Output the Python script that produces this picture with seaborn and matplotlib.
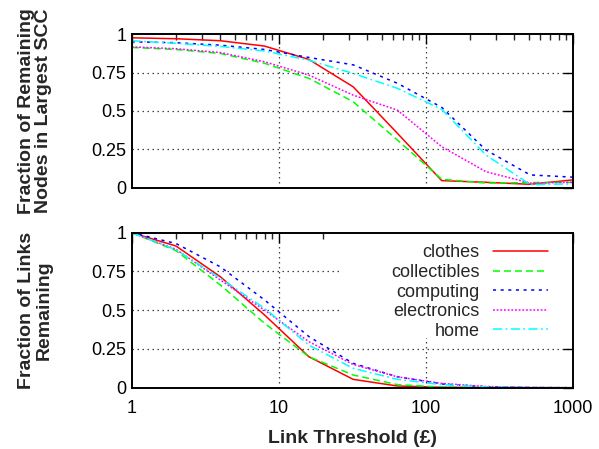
import numpy as np
import pandas as pd
import matplotlib
matplotlib.use("Agg")
import matplotlib.pyplot as plt
import seaborn as sns
from matplotlib.patches import Rectangle
from matplotlib.ticker import LogLocator, NullFormatter, FixedLocator

# link thresholds (pounds), powers of two
thresholds = [1, 2, 4, 8, 16, 32, 64, 128, 256, 512, 1024]
categories = ["clothes", "collectibles", "computing", "electronics", "home"]

# fraction of remaining nodes in largest SCC
scc_clothes = [0.976, 0.970, 0.957, 0.922, 0.835, 0.657, 0.354, 0.046, 0.035, 0.022, 0.052]
scc_collectibles = [0.913, 0.900, 0.874, 0.810, 0.712, 0.560, 0.310, 0.055, 0.030, 0.033, 0.035]
scc_computing = [0.950, 0.944, 0.928, 0.900, 0.848, 0.800, 0.680, 0.523, 0.245, 0.083, 0.068]
scc_electronics = [0.917, 0.905, 0.880, 0.820, 0.733, 0.603, 0.505, 0.267, 0.104, 0.030, 0.035]
scc_home = [0.957, 0.940, 0.920, 0.890, 0.830, 0.744, 0.647, 0.510, 0.213, 0.020, 0.025]

# fraction of links remaining
links_clothes = [1.0, 0.914, 0.716, 0.469, 0.200, 0.054, 0.011, 0.003, 0.001, 0.0, 0.0]
links_collectibles = [1.0, 0.884, 0.663, 0.415, 0.200, 0.082, 0.020, 0.004, 0.001, 0.0, 0.0]
links_computing = [1.0, 0.930, 0.780, 0.566, 0.330, 0.157, 0.071, 0.024, 0.006, 0.001, 0.0]
links_electronics = [1.0, 0.893, 0.695, 0.500, 0.297, 0.150, 0.070, 0.028, 0.008, 0.002, 0.0]
links_home = [1.0, 0.890, 0.706, 0.512, 0.275, 0.125, 0.054, 0.020, 0.005, 0.001, 0.0]

colors = {"clothes": "#ff0000", "collectibles": "#00ff00", "computing": "#0000ff",
          "electronics": "#ff00ff", "home": "#00ffff"}
dashes = {"clothes": "", "collectibles": (4.6, 2.6), "computing": (2, 3),
          "electronics": (1.2, 1.2), "home": (6, 2.2, 1.2, 2.2)}


def long_frame(series):
    rows = []
    for cat, vals in zip(categories, series):
        for x, y in zip(thresholds, vals):
            rows.append({"threshold": x, "value": y, "category": cat})
    return pd.DataFrame(rows)


scc_df = long_frame([scc_clothes, scc_collectibles, scc_computing, scc_electronics, scc_home])
links_df = long_frame([links_clothes, links_collectibles, links_computing, links_electronics, links_home])

sns.set_style("white")
plt.rcParams["font.family"] = ["Liberation Sans", "DejaVu Sans"]
plt.rcParams["font.size"] = 13

fig = plt.figure(figsize=(5.99, 4.49), dpi=100)
ax1 = fig.add_axes([0.22, 0.582, 0.7366, 0.342])
ax2 = fig.add_axes([0.22, 0.1365, 0.7366, 0.3452])

for ax, df in [(ax1, scc_df), (ax2, links_df)]:
    sns.lineplot(data=df, x="threshold", y="value", hue="category", style="category",
                 palette=colors, dashes=dashes, hue_order=categories, style_order=categories,
                 lw=1.1, legend=False, errorbar=None, ax=ax, zorder=2)
    ax.set_xscale("log")
    ax.set_xlim(1, 1000)
    ax.set_ylim(0, 1)
    ax.set_yticks([0, 0.25, 0.5, 0.75, 1])
    ax.set_yticklabels(["0", "0.25", "0.5", "0.75", "1"])
    ax.xaxis.set_major_locator(FixedLocator([1, 10, 100, 1000]))
    ax.xaxis.set_minor_locator(LogLocator(base=10, subs=np.arange(2, 10)))
    ax.xaxis.set_minor_formatter(NullFormatter())
    ax.tick_params(which="major", direction="in", length=7, width=1, top=True, right=True,
                   labelsize=13, pad=4, colors="black")
    ax.tick_params(axis="x", which="major", pad=9)
    ax.tick_params(which="minor", direction="in", length=4, width=1, top=True, right=True)
    ax.set_axisbelow(True)
    ax.grid(False)
    for v in [10, 100]:
        ax.axvline(v, color="0.25", lw=0.9, ls=(0, (1.2, 2.8)), zorder=0.5)
    for v in [0.25, 0.5, 0.75]:
        ax.axhline(v, color="0.25", lw=0.9, ls=(0, (1.2, 2.8)), zorder=0.5)
    for s in ax.spines.values():
        s.set_linewidth(1.4)
        s.set_color("black")
        s.set_zorder(3)
    ax.set_xlabel("")

ax1.set_xticklabels([])
ax2.set_xticklabels(["1", "10", "100", "1000"])

ax1.set_ylabel("Fraction of Remaining\nNodes in Largest SCC", fontweight="bold", fontsize=14,
               linespacing=1.05)
ax2.set_ylabel("Fraction of Links\nRemaining", fontweight="bold", fontsize=14, linespacing=1.05)
ax1.yaxis.set_label_coords(-0.18, 0.5)
ax2.yaxis.set_label_coords(-0.18, 0.5)
ax2.set_xlabel("Link Threshold (\u00a3)", fontweight="bold", fontsize=14, labelpad=9.5)

# opaque key box, as in the original
ax2.add_patch(Rectangle((0.47, 0.32), 0.53, 0.68, transform=ax2.transAxes,
                        facecolor="white", edgecolor="none", zorder=1))
ax2.legend(ax2.lines[:5], categories, loc="upper right", bbox_to_anchor=(0.943, 0.924),
           frameon=False, markerfirst=False, handlelength=3.05, handletextpad=0.72,
           labelspacing=0.14, borderpad=0, borderaxespad=0, fontsize=13)

fig.savefig("out.png", dpi=100)
